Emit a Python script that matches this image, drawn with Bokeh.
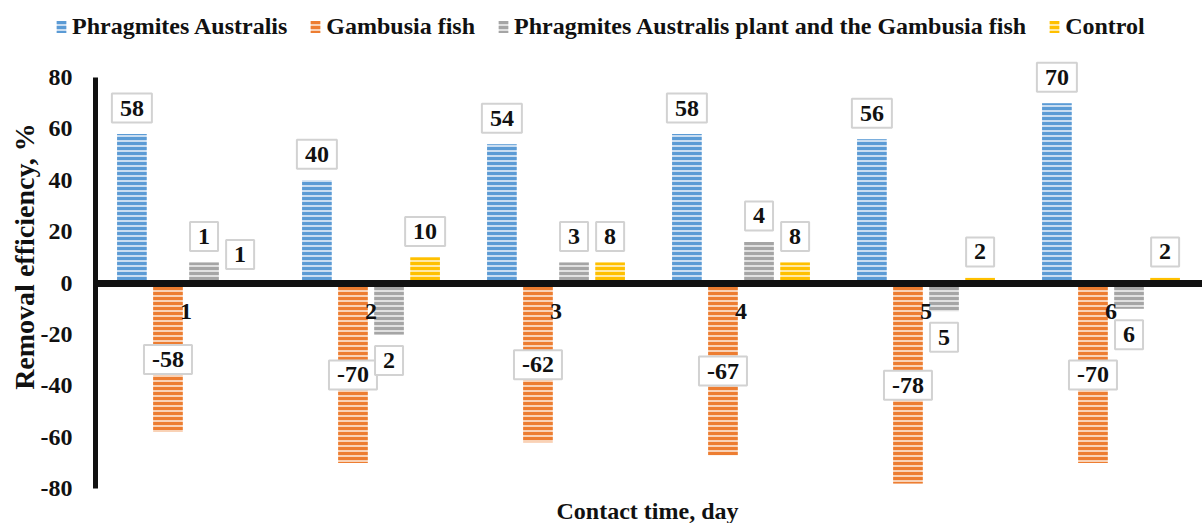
import math

from bokeh.plotting import figure
from bokeh.models import (ColumnDataSource, Legend, LegendItem, Label,
                          FixedTicker, Range1d)
from bokeh.transform import dodge
from bokeh.core.properties import value
from bokeh.embed import file_html
from bokeh.resources import INLINE

# ---- data -------------------------------------------------------------
days = [1, 2, 3, 4, 5, 6]
day_labels = ["1", "2", "3", "4", "5", "6"]

phragmites = [58, 40, 54, 58, 56, 70]
gambusia = [-58, -70, -62, -67, -78, -70]
combined = [8, -20, 8, 16, -11, -10]
combined_labels = ["1", "2", "3", "4", "5", "6"]
control = [1, 10, 8, 8, 2, 2]

series_names = [
    "Phragmites Australis",
    "Gambusia fish",
    "Phragmites Australis plant and the Gambusia fish",
    "Control",
]
y_ticks = [-80, -60, -40, -20, 0, 20, 40, 60, 80]
y_title = "Removal efficiency, %"
x_title = "Contact time, day"

# ---- styling ----------------------------------------------------------
FONT = "Liberation Serif"
INK = "#111111"
dark = ["#5B9BD5", "#ED7D31", "#A5A5A5", "#FFC000"]
light = ["#C9DDF1", "#F9D2B6", "#E0E0E0", "#FFE9A6"]
offsets = [-0.2925, -0.0975, 0.0975, 0.2925]
BAR_W = 0.16
LABEL_GAP = 26  # px between bar end and label centre
Y_AXIS_AT = 0.5108  # x position of the vertical axis

# The frame fills the whole canvas; both axes are pinned inside it so the
# legend and the labels above the tallest bar are never clipped.
p = figure(width=1202, height=523,
           x_range=Range1d(-0.0027, 6.4946), y_range=Range1d(-93.6, 110.0),
           output_backend="svg", toolbar_location=None,
           min_border_left=0, min_border_right=0,
           min_border_top=0, min_border_bottom=0)
p.title.visible = False
p.outline_line_color = None
p.xgrid.visible = False
p.ygrid.visible = False
p.background_fill_color = "white"

series = [
    (phragmites, [str(v) for v in phragmites], "end"),
    (gambusia, [str(v) for v in gambusia], "center"),
    (combined, combined_labels, "end"),
    (control, [str(v) for v in control], "end"),
]

items = []
label_sources = []
for i, (vals, texts, pos) in enumerate(series):
    if pos == "center":
        ly = [v / 2 for v in vals]
        yo = [2 for v in vals]
    else:
        ly = list(vals)
        yo = [-LABEL_GAP if v >= 0 else LABEL_GAP for v in vals]
    src = ColumnDataSource(dict(day=days, v=vals, txt=texts, ly=ly, yo=yo))
    r = p.vbar(x=dodge("day", offsets[i], range=p.x_range), top="v", bottom=0,
               width=BAR_W, source=src,
               fill_color=light[i], line_color=None,
               hatch_pattern="horizontal_line", hatch_color=dark[i],
               hatch_weight=3, hatch_scale=5)
    items.append(LegendItem(label=series_names[i], renderers=[r]))
    label_sources.append((i, src))

# boxed data labels, drawn after all bars so they sit on top
for i, src in label_sources:
    p.text(x=dodge("day", offsets[i], range=p.x_range), y="ly",
           y_offset="yo", text="txt", source=src,
           anchor="center", text_align="center", text_baseline="middle",
           text_font=value(FONT), text_font_style="bold",
           text_font_size="24px", text_color=INK,
           background_fill_color="white",
           border_line_color="#D2D2D2", border_line_width=2,
           padding=dict(x=8, y=7))

# y axis
p.yaxis.fixed_location = Y_AXIS_AT
p.yaxis.ticker = FixedTicker(ticks=y_ticks)
p.yaxis.major_label_overrides = {t: str(t) for t in y_ticks}
p.yaxis.bounds = (-80, 80)
p.yaxis.axis_line_width = 5
p.yaxis.axis_line_color = INK
p.yaxis.major_tick_line_color = None
p.yaxis.minor_tick_line_color = None
p.yaxis.major_tick_out = 0
p.yaxis.major_label_standoff = 23
p.yaxis.major_label_text_font = FONT
p.yaxis.major_label_text_font_style = "bold"
p.yaxis.major_label_text_font_size = "24px"
p.yaxis.major_label_text_color = INK

# x axis drawn along the zero line
p.xaxis.fixed_location = 0
p.xaxis.ticker = FixedTicker(ticks=days)
p.xaxis.bounds = (Y_AXIS_AT, 6.4946)
p.xaxis.major_label_overrides = {d: t for d, t in zip(days, day_labels)}
p.xaxis.axis_line_width = 7
p.xaxis.axis_line_color = INK
p.xaxis.major_tick_line_color = None
p.xaxis.minor_tick_line_color = None
p.xaxis.major_tick_out = 0
p.xaxis.major_label_standoff = 21
p.xaxis.major_label_text_font = FONT
p.xaxis.major_label_text_font_style = "bold"
p.xaxis.major_label_text_font_size = "24px"
p.xaxis.major_label_text_color = INK

# axis titles
p.add_layout(Label(x=647, y=13, x_units="screen", y_units="screen",
                   text=x_title, text_align="center",
                   text_baseline="middle", text_font=FONT,
                   text_font_style="bold", text_font_size="24px",
                   text_color=INK))
p.add_layout(Label(x=24, y=267, x_units="screen", y_units="screen",
                   angle=math.pi / 2, text=y_title, text_align="center",
                   text_baseline="middle", text_font=FONT,
                   text_font_style="bold", text_font_size="28px",
                   text_color=INK))

legend = Legend(items=items, orientation="horizontal", location=(55, 483),
                glyph_width=12, glyph_height=15, label_standoff=5, spacing=22,
                padding=0, margin=0, border_line_color=None,
                background_fill_alpha=0,
                label_text_font=FONT, label_text_font_style="bold",
                label_text_font_size="24px", label_text_color=INK)
p.add_layout(legend)

open("out.html", "w").write(file_html(p, INLINE))
